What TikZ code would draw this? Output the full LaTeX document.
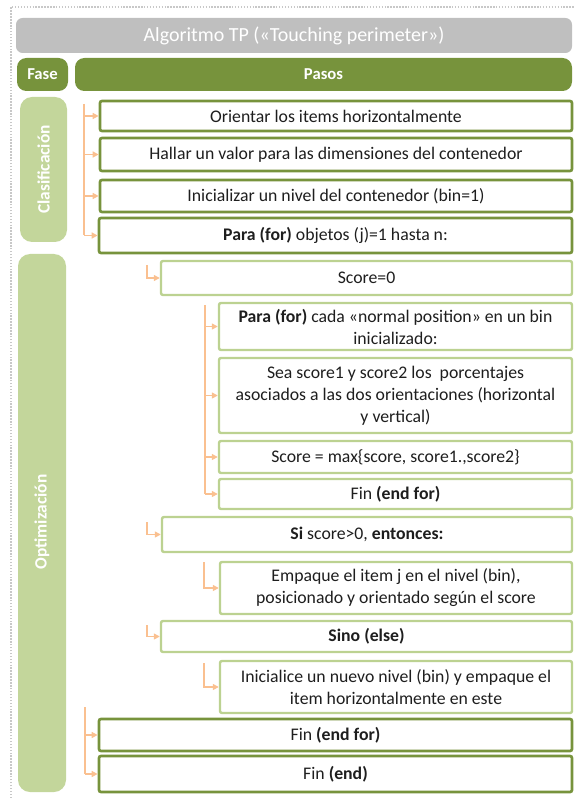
\documentclass[tikz,border=0pt]{standalone}
\usepackage{fontspec}
\setmainfont{Carlito}
\usetikzlibrary{arrows.meta}
\definecolor{dgreen}{HTML}{77933C}
\definecolor{lgreen}{HTML}{C3D69B}
\definecolor{lborder}{HTML}{BCD291}
\definecolor{tgray}{HTML}{BFBFBF}
\definecolor{arr}{HTML}{FAC090}
\definecolor{txt}{HTML}{1E1E1E}
\definecolor{dotc}{HTML}{C8C8C8}
\newcommand\stepnode[7]{\node[#1, minimum width={(#5-#3)*0.75pt}, minimum height={(#6-#4)*0.75pt}] (#2) at ({(#3+#5)/2},{(#4+#6)/2}) {#7};}
\begin{document}
\begin{tikzpicture}[x=0.75pt,y=-0.75pt,
  basefont/.style={font=\fontsize{13.3}{16.5}\selectfont},
  stepdark/.style={basefont, text=txt, draw=dgreen, line width=2pt, rounded corners=1.5pt, fill=white, align=center, inner sep=0pt},
  steplight/.style={basefont, text=txt, draw=lborder, line width=1.8pt, rounded corners=1.5pt, fill=white, align=center, inner sep=0pt},
  headbox/.style={fill=dgreen, rounded corners=7pt, text=white, inner sep=0pt, font=\fontsize{12.5}{15}\selectfont\bfseries},
  phasebox/.style={fill=lgreen, rounded corners=9pt, inner sep=0pt},
  phasetext/.style={text=white, rotate=90, font=\fontsize{13}{15}\selectfont\bfseries},
  conn/.style={draw=arr, line width=1.1pt, -{Triangle[length=4.5pt,width=4.5pt]}},
  connline/.style={draw=arr, line width=1.1pt}]
\useasboundingbox (0,0) rectangle (574,798);
% dotted frame
\draw[dotc, line width=1.2pt, dash pattern=on 1.1pt off 1.1pt] (11,798) -- (11,7) -- (574,7);
% title
\stepnode{fill=tgray, rounded corners=5pt, inner sep=0pt, text=white, font=\fontsize{15}{18}\selectfont}{title}{16}{18}{572}{53}{Algoritmo TP («Touching perimeter»)}
% headers
\stepnode{headbox}{fase}{17}{58}{68}{91}{Fase}
\stepnode{headbox}{pasos}{75}{58}{572}{91}{Pasos}
% phases
\stepnode{phasebox}{clas}{20}{97}{67}{242}{}
\node[phasetext] (clast) at (clas.center) {Clasificación};
\stepnode{phasebox}{opt}{18}{254}{66}{792}{}
\node[phasetext] (optt) at (42,522) {Optimización};
% steps
\stepnode{stepdark}{b1}{100}{101}{572}{131}{Orientar los items horizontalmente}
\stepnode{stepdark}{b2}{100}{138}{572}{171}{Hallar un valor para las dimensiones del contenedor}
\stepnode{stepdark}{b3}{100}{180}{572}{212}{Inicializar un nivel del contenedor (bin=1)}
\stepnode{stepdark}{b4}{99}{218}{572}{253}{\textbf{Para (for)} objetos (j)=1 hasta n:}
\stepnode{steplight}{s0}{161}{261}{572}{295}{Score=0}
\stepnode{steplight}{p1}{219}{303}{572}{350}{\textbf{Para (for)} cada «normal position» en un bin\\inicializado:}
\stepnode{steplight}{p2}{219}{358}{572}{433}{Sea score1 y score2 los\ \ porcentajes\\asociados a las dos orientaciones (horizontal\\y vertical)}
\stepnode{steplight}{p3}{219}{441}{572}{473}{Score = max\{score, score1.,score2\}}
\stepnode{steplight}{p4}{219}{479}{572}{509}{Fin \textbf{(end for)}}
\stepnode{steplight}{si}{162}{517}{572}{552}{\textbf{Si} score>0, \textbf{entonces:}}
\stepnode{steplight}{emp}{220}{562}{572}{614}{Empaque el item j en el nivel (bin),\\posicionado y orientado según el score}
\stepnode{steplight}{sino}{161}{621}{572}{652}{\textbf{Sino (else)}}
\stepnode{steplight}{ini}{220}{661}{572}{713}{Inicialice un nuevo nivel (bin) y empaque el\\item horizontalmente en este}
\stepnode{stepdark}{fin1}{99}{719}{572}{751}{Fin \textbf{(end for)}}
\stepnode{stepdark}{fin2}{99}{756}{572}{792}{Fin \textbf{(end)}}
% connectors: group 1
\coordinate (g1) at (84,104);
\draw[connline] (g1) -- (g1 |- b4.west);
\foreach \n in {b1,b2,b3,b4} \draw[conn] (g1 |- \n.west) -- (\n.west);
% group inner for
\coordinate (g2) at (205,305);
\draw[connline] (g2) -- (g2 |- p4.west);
\foreach \n in {p1,p2,p3,p4} \draw[conn] (g2 |- \n.west) -- (\n.west);
% group end
\coordinate (g3) at (85,707);
\draw[connline] (g3) -- (g3 |- fin2.west);
\foreach \n in {fin1,fin2} \draw[conn] (g3 |- \n.west) -- (\n.west);
% elbows
\coordinate (e1) at (147,265);
\draw[conn] (e1) |- (s0.west);
\coordinate (e2) at (147,522);
\draw[conn] (e2) |- (si.west);
\coordinate (e3) at (204,562);
\draw[conn] (e3) |- (emp.west);
\coordinate (e4) at (147,625);
\draw[conn] (e4) |- (sino.west);
\coordinate (e5) at (204,663);
\draw[conn] (e5) |- (ini.west);
\end{tikzpicture}
\end{document}
